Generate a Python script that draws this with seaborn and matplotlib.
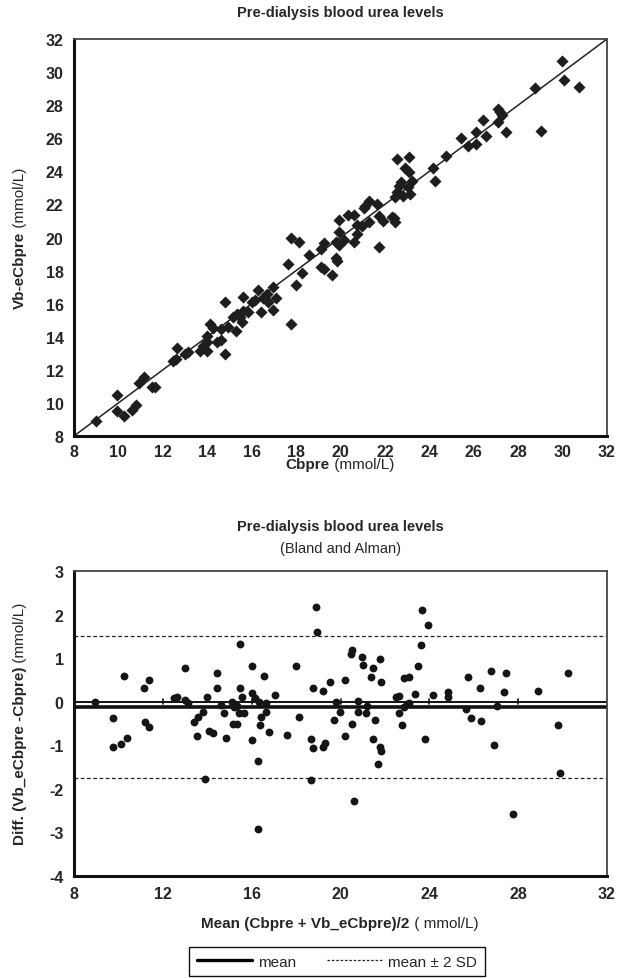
import matplotlib
matplotlib.use("Agg")
import matplotlib.pyplot as plt
import seaborn as sns
import pandas as pd
from matplotlib.lines import Line2D

# Top panel: Cbpre vs Vb-eCbpre (mmol/L)
cb_pre = [8.98, 9.94, 9.94, 10.27, 10.62, 10.81, 10.94, 11.15, 11.5, 11.63,
          12.44, 12.59, 12.64, 13.0, 13.13, 13.67, 13.79, 13.97, 13.97, 13.97,
          14.12, 14.27, 14.6, 14.45, 14.6, 14.8, 14.8, 14.95,
          15.29, 15.17, 15.32, 15.47, 15.55, 15.62, 15.82, 15.59, 16.0, 16.15,
          16.3, 16.42, 16.52, 16.68, 16.75, 16.95, 17.1, 16.95, 17.76, 17.98,
          18.25, 17.64, 17.76, 18.12, 18.58, 19.14, 19.26, 19.11, 19.27, 19.6,
          19.8, 19.95, 20.16, 19.8, 19.83, 19.95, 19.95, 20.36,
          20.62, 20.61, 20.76, 20.73, 20.95, 21.07, 21.1, 21.3, 21.3, 21.63,
          21.75, 21.93, 21.75, 22.3, 22.4, 22.45, 22.45, 22.55, 22.72, 22.55,
          23.09, 22.9, 23.09, 23.24, 23.04, 23.12, 22.81, 22.63, 24.15, 24.25,
          24.73, 25.42,
          25.75, 26.08, 26.08, 26.43, 26.55, 27.1, 27.18, 27.25, 27.1, 27.45,
          28.74, 29.05, 29.96, 30.08, 30.75]
vb_ecb_pre = [8.93, 10.48, 9.49, 9.21, 9.57, 9.86, 11.22, 11.59, 10.96, 10.96,
              12.52, 12.64, 13.32, 12.96, 13.06, 13.14, 13.42, 13.14, 13.66, 14.06,
              14.77, 14.53, 14.47, 13.66, 13.82, 12.94, 16.12, 14.57,
              14.37, 15.18, 15.38, 15.18, 14.88, 15.58, 15.48, 16.38, 16.12, 16.22,
              16.85, 15.48, 16.32, 16.58, 16.08, 17.03, 16.35, 15.6, 14.77, 17.11,
              17.84, 18.38, 19.95, 19.75, 18.96, 19.3, 19.64, 18.24, 18.1, 17.74,
              19.75, 19.54, 19.87, 18.74, 18.6, 20.35, 21.08, 21.36,
              21.36, 19.75, 20.21, 20.76, 20.7, 21.77, 21.9, 22.23, 20.96, 22.03,
              21.32, 21.02, 19.41, 21.26, 21.16, 20.92, 22.47, 22.77, 23.34, 24.75,
              24.85, 24.18, 23.94, 23.43, 23.03, 22.63, 22.49, 23.09, 24.2, 23.39,
              24.91, 26.02,
              25.55, 25.65, 26.36, 27.1, 26.16, 27.77, 27.57, 27.4, 27.0, 26.36,
              29.04, 26.45, 30.65, 29.54, 29.12]

# Bottom panel: Bland-Altman
ba_mean = [8.96, 9.77, 9.77, 10.12, 10.4, 10.25, 11.15, 11.36, 11.2, 11.36,
           12.5, 12.65, 13.0, 13.0, 13.15, 13.4, 13.6, 13.82, 13.54, 13.9,
           14.0, 14.42, 14.42, 14.6, 14.1, 14.27, 14.77, 14.83, 15.46, 15.46,
           15.55, 15.1, 15.2, 15.33, 15.43, 15.67, 15.17, 15.32, 16.01, 16.0,
           16.15, 16.33, 16.55, 16.63, 16.63, 16.42, 16.36, 16.0, 16.28, 16.28,
           16.77, 17.06, 17.59, 18.0, 18.13, 18.75, 18.69, 18.76, 18.69, 18.88,
           18.96, 19.23, 19.51, 19.78, 19.97, 19.7, 19.23, 19.3,
           20.19, 20.19, 20.53, 20.46, 20.53, 20.59, 20.8, 20.8, 20.95, 21.0,
           21.15, 21.21, 21.36, 21.47, 21.76, 21.82, 21.55, 21.47, 21.76, 21.82,
           21.7, 22.51, 22.65, 22.65, 22.78, 22.86, 22.99, 23.07, 22.86, 23.07,
           23.34, 23.47, 23.61, 23.68, 23.95, 23.82, 24.16, 24.84, 24.84, 25.66,
           25.73, 25.86, 26.28, 26.34, 26.76, 26.9, 27.03, 27.38, 27.45, 27.78,
           28.88, 29.78, 29.9, 30.24]
ba_diff = [0.0, -0.37, -1.04, -0.97, -0.83, 0.6, 0.32, 0.5, -0.47, -0.58,
           0.08, 0.11, 0.78, 0.05, -0.04, -0.47, -0.34, -0.24, -0.79, -1.77,
           0.11, 0.67, 0.31, -0.07, -0.68, -0.72, -0.27, -0.83, 1.33, 0.31,
           0.11, 0.0, -0.13, -0.09, -0.25, -0.27, -0.51, -0.51, 0.82, 0.19,
           0.08, 0.0, 0.6, -0.03, -0.24, -0.34, -0.54, -0.89, -1.35, -2.92,
           -0.69, 0.15, -0.77, 0.82, -0.34, 0.31, -0.86, -1.06, -1.8, 2.17,
           1.61, 0.25, 0.46, 0.0, -0.23, -0.41, -1.03, -0.94,
           0.5, -0.79, -0.51, 1.09, 1.19, -2.29, 0.01, -0.24, 1.03, 0.84,
           -0.27, -0.09, 0.57, 0.77, 0.99, 0.46, -0.41, -0.86, -1.04, -1.14,
           -1.42, 0.11, 0.13, -0.27, -0.54, -0.13, -0.06, -0.03, 0.54, 0.57,
           0.18, 0.81, 1.3, 2.1, 1.75, -0.86, 0.15, 0.22, 0.11, -0.17,
           0.57, -0.37, 0.31, -0.45, 0.7, -1.0, -0.09, 0.22, 0.67, -2.58,
           0.25, -0.54, -1.63, 0.67]
diff_mean = -0.115
diff_sd = 0.8125

top_ticks = list(range(8, 33, 2))
bottom_xticks = list(range(8, 33, 4))
bottom_yticks = list(range(-4, 4))

sns.set_style("white")
plt.rcParams['font.family'] = ['Liberation Sans', 'DejaVu Sans']
plt.rcParams['axes.unicode_minus'] = False

W, H = 631, 979
fig = plt.figure(figsize=(W / 100, H / 100), dpi=100)
renderer = fig.canvas.get_renderer()


def mixed_label(x, y, bold, normal, rotation=0, size=11):
    # bold part followed by a normal-weight part, centred on (x, y)
    t1 = fig.text(0, 0, bold, weight='bold', size=size, rotation=rotation)
    t2 = fig.text(0, 0, normal, size=size, rotation=rotation)
    e1 = t1.get_window_extent(renderer)
    e2 = t2.get_window_extent(renderer)
    if rotation == 0:
        start = x * W - (e1.width + e2.width) / 2
        t1.set(position=(start / W, y), ha='left', va='center')
        t2.set(position=((start + e1.width) / W, y), ha='left', va='center')
    else:
        start = y * H - (e1.height + e2.height) / 2
        t1.set(position=(x, start / H), ha='center', va='bottom')
        t2.set(position=(x, (start + e1.height) / H), ha='center', va='bottom')


def style_box(ax):
    for side in ['left', 'bottom']:
        ax.spines[side].set_linewidth(2.2)
        ax.spines[side].set_color('#111111')
    for side in ['top', 'right']:
        ax.spines[side].set_linewidth(1.3)
        ax.spines[side].set_color('#444444')
    for lab in ax.get_xticklabels() + ax.get_yticklabels():
        lab.set_fontweight('bold')
        lab.set_fontsize(11.5)


# ---- top scatter ----
ax1 = fig.add_axes([74 / W, 1 - 437 / H, 533 / W, 397 / H])
top_df = pd.DataFrame({'Cbpre': cb_pre, 'Vb': vb_ecb_pre})
sns.lineplot(x=[8, 32], y=[8, 32], ax=ax1, color='#222222', linewidth=1.1)
sns.scatterplot(data=top_df, x='Cbpre', y='Vb', ax=ax1, marker='D', s=38,
                color='#1e1e1e', edgecolor='#1e1e1e', linewidth=0, zorder=3)
ax1.set_xlim(8, 32)
ax1.set_ylim(8, 32)
ax1.set_xticks(top_ticks)
ax1.set_yticks(top_ticks)
ax1.set_xlabel('')
ax1.set_ylabel('')
ax1.tick_params(axis='y', direction='inout', length=11, width=1.5, color='#111111', pad=2)
ax1.tick_params(axis='x', direction='inout', length=11, width=1.5, color='#111111', pad=0)
style_box(ax1)
fig.text(340 / W, 1 - 13 / H, 'Pre-dialysis blood urea levels', ha='center',
         va='center', weight='bold', size=10.5)
mixed_label(340 / W, 1 - 465 / H, 'Cbpre', ' (mmol/L)')
mixed_label(20 / W, 1 - 238 / H, 'Vb-eCbpre', ' (mmol/L)', rotation=90)

# ---- bottom Bland-Altman ----
ax2 = fig.add_axes([74 / W, 1 - 877 / H, 533 / W, 305 / H])
ba_df = pd.DataFrame({'mean': ba_mean, 'diff': ba_diff})
ax2.axhline(0, color='#111111', linewidth=1.4)
for t in bottom_xticks[1:-1]:
    ax2.plot([t, t], [-0.06, 0.06], color='#111111', linewidth=1.2)
ax2.axhline(diff_mean, color='#111111', linewidth=2.6)
ax2.axhline(diff_mean + 2 * diff_sd, color='#222222', linewidth=0.9, dashes=(3, 2))
ax2.axhline(diff_mean - 2 * diff_sd, color='#222222', linewidth=0.9, dashes=(3, 2))
sns.scatterplot(data=ba_df, x='mean', y='diff', ax=ax2, marker='o', s=32,
                color='#151515', edgecolor='#151515', linewidth=0, zorder=3)
ax2.set_xlim(8, 32)
ax2.set_ylim(-4, 3)
ax2.set_xticks(bottom_xticks)
ax2.set_yticks(bottom_yticks)
ax2.set_xlabel('')
ax2.set_ylabel('')
ax2.tick_params(axis='y', direction='inout', length=11, width=1.5, color='#111111', pad=2)
ax2.tick_params(axis='x', length=0, pad=7)
style_box(ax2)
fig.text(340 / W, 1 - 527 / H, 'Pre-dialysis blood urea levels', ha='center',
         va='center', weight='bold', size=10.5)
fig.text(340 / W, 1 - 549 / H, '(Bland and Alman)', ha='center', va='center', size=10.5)
mixed_label(340 / W, 1 - 924 / H, 'Mean (Cbpre + Vb_eCbpre)/2', ' ( mmol/L)')
mixed_label(20 / W, 1 - 724 / H, 'Diff. (Vb_eCbpre -Cbpre)', ' (mmol/L)', rotation=90)

handles = [Line2D([], [], color='black', linewidth=2.4),
           Line2D([], [], color='#222222', linewidth=0.9, dashes=(2, 1.5))]
fig.legend(handles, ['mean', 'mean \u00b1 2 SD'], loc='upper center',
           bbox_to_anchor=(337 / W, 1 - 948 / H), ncol=2, frameon=True,
           fancybox=False, edgecolor='#111111', framealpha=1, fontsize=11,
           handlelength=3.6, handletextpad=0.4, columnspacing=2.0,
           borderpad=0.5, borderaxespad=0)

fig.savefig('out.png', dpi=100)
